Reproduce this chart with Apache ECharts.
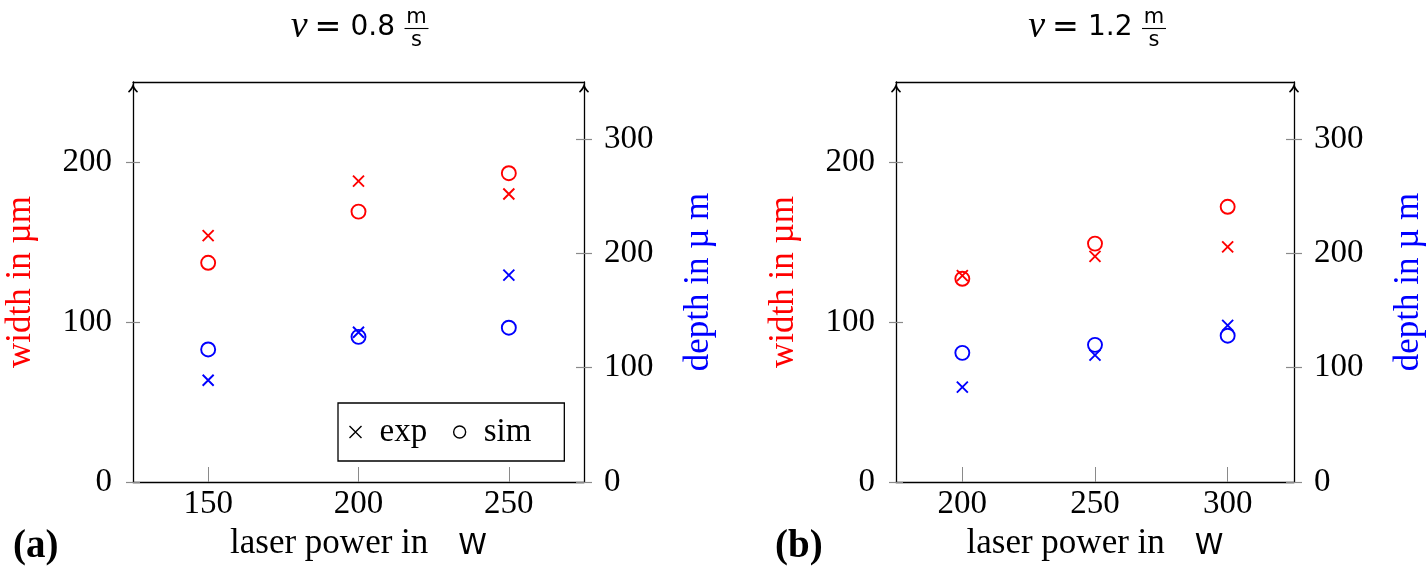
<!DOCTYPE html>
<html>
<head>
<meta charset="utf-8">
<script src="https://cdn.jsdelivr.net/npm/echarts@6/dist/echarts.min.js"></script>
<style>
html,body{margin:0;padding:0;background:#fff;}
#chart{width:1427px;height:578px;}
</style>
</head>
<body>
<div id="chart"></div>
<script>
// ---- data (panel a: v = 0.8 m/s) ----
const powerA = [150, 200, 250];
const widthExpA = [154, 188, 180];
const widthSimA = [137, 169, 193];
const depthExpA = [89, 131, 181];
const depthSimA = [116, 127, 135];
// ---- data (panel b: v = 1.2 m/s) ----
const powerB = [200, 250, 300];
const widthExpB = [129, 141, 147];
const widthSimB = [127, 149, 172];
const depthExpB = [83, 111, 137];
const depthSimB = [113, 120, 128];
// ---- ticks ----
const xTicksA = [150, 200, 250];
const xTicksB = [200, 250, 300];
const widthTicks = [0, 100, 200];
const depthTicks = [0, 100, 200, 300];
const panelTitles = ['0.8', '1.2'];

const RED = '#ff0000', BLUE = '#0000ff', GREY = '#8a8a8a';
const SERIF = 'Liberation Serif', SANS = 'DejaVu Sans';
const crossPath = 'path://M0,0L10,10M10,0L0,10';
const arrowPath = 'path://M5,0 C5.7,3 7.8,6.2 10,8.2 L9,9.6 C7.4,8.2 6,6.4 5,4.8 C4,6.4 2.6,8.2 1,9.6 L0,8.2 C2.2,6.2 4.3,3 5,0 Z';

const grids = [
  {left: 133, top: 82, width: 451, height: 400},
  {left: 896, top: 82, width: 400, height: 400}
];
const xRanges = [[125, 275], [175, 325]];
const xTicks = [xTicksA, xTicksB];

function zip(xs, ys) { return xs.map((x, i) => [x, ys[i]]); }

const xAxis = [], yAxis = [], series = [];
grids.forEach((g, gi) => {
  xAxis.push({
    type: 'value', gridIndex: gi, position: 'bottom', min: xRanges[gi][0], max: xRanges[gi][1],
    axisLine: {show: true, onZero: false, lineStyle: {color: '#000', width: 1.3}},
    axisTick: {show: true, inside: true, length: 15, customValues: xTicks[gi], lineStyle: {color: GREY, width: 1}},
    axisLabel: {show: true, margin: 6, customValues: xTicks[gi], color: '#000', fontFamily: SERIF, fontSize: 33},
    splitLine: {show: false},
    name: '{a|laser power in}{b|W}', nameLocation: 'middle', nameGap: 44,
    nameTextStyle: {rich: {
      a: {fontFamily: SERIF, fontSize: 35, color: '#000'},
      b: {fontFamily: SANS, fontSize: 29, color: '#000', padding: [6, 0, 0, 30]}
    }}
  });
  xAxis.push({
    type: 'value', gridIndex: gi, position: 'top', min: xRanges[gi][0], max: xRanges[gi][1],
    axisLine: {show: true, onZero: false, lineStyle: {color: '#000', width: 1.3}},
    axisTick: {show: false}, axisLabel: {show: false}, splitLine: {show: false}
  });
  // main left (width)
  yAxis.push({
    type: 'value', gridIndex: gi, position: 'left', min: 0, max: 250,
    axisLine: {show: true, onZero: false, symbol: ['none', arrowPath], symbolSize: [10, 12], symbolOffset: [0, -6],
      lineStyle: {color: '#000', width: 1.3}},
    axisTick: {show: true, inside: false, length: 7, customValues: widthTicks, lineStyle: {color: GREY, width: 1.2}},
    axisLabel: {show: true, margin: 21, customValues: widthTicks, color: '#000', fontFamily: SERIF, fontSize: 33},
    splitLine: {show: false},
    name: 'width in µm', nameLocation: 'middle', nameGap: 95,
    nameTextStyle: {color: RED, fontFamily: SERIF, fontSize: 35}
  });
  // main right (depth)
  yAxis.push({
    type: 'value', gridIndex: gi, position: 'right', min: 0, max: 350,
    axisLine: {show: true, onZero: false, symbol: ['none', arrowPath], symbolSize: [10, 12], symbolOffset: [0, -6],
      lineStyle: {color: '#000', width: 1.3}},
    axisTick: {show: true, inside: false, length: 8, customValues: depthTicks, lineStyle: {color: GREY, width: 1.2}},
    axisLabel: {show: true, margin: 20, customValues: depthTicks, color: '#000', fontFamily: SERIF, fontSize: 33},
    splitLine: {show: false},
    name: 'depth in µ m', nameLocation: 'middle', nameGap: 97,
    nameTextStyle: {color: BLUE, fontFamily: SERIF, fontSize: 35}
  });
  // inner tick halves
  yAxis.push({
    type: 'value', gridIndex: gi, position: 'left', min: 0, max: 250,
    axisLine: {show: false, onZero: false},
    axisTick: {show: true, inside: true, length: 7, customValues: widthTicks, lineStyle: {color: GREY, width: 1.2}},
    axisLabel: {show: false}, splitLine: {show: false}
  });
  yAxis.push({
    type: 'value', gridIndex: gi, position: 'right', min: 0, max: 350,
    axisLine: {show: false, onZero: false},
    axisTick: {show: true, inside: true, length: 8, customValues: depthTicks, lineStyle: {color: GREY, width: 1.2}},
    axisLabel: {show: false}, splitLine: {show: false}
  });
});

function mk(name, gi, yi, data, color, isCross) {
  return {
    type: 'scatter', name: name, xAxisIndex: gi * 2, yAxisIndex: gi * 4 + yi,
    data: data,
    symbol: isCross ? crossPath : 'circle',
    symbolSize: isCross ? 11 : 14,
    itemStyle: {color: 'none', borderColor: color, borderWidth: 1.9, opacity: 1},
    emphasis: {disabled: true},
    z: isCross ? 3 : 2
  };
}
series.push(mk('sim', 0, 0, zip(powerA, widthSimA), RED, false));
series.push(mk('exp', 0, 0, zip(powerA, widthExpA), RED, true));
series.push(mk('sim', 0, 1, zip(powerA, depthSimA), BLUE, false));
series.push(mk('exp', 0, 1, zip(powerA, depthExpA), BLUE, true));
series.push(mk('sim', 1, 0, zip(powerB, widthSimB), RED, false));
series.push(mk('exp', 1, 0, zip(powerB, widthExpB), RED, true));
series.push(mk('sim', 1, 1, zip(powerB, depthSimB), BLUE, false));
series.push(mk('exp', 1, 1, zip(powerB, depthExpB), BLUE, true));

// titles and panel labels
const graphic = [];
grids.forEach((g, gi) => {
  const cx = g.left + g.width / 2;
  graphic.push({type: 'text', x: cx - 51, y: 27,
    style: {text: 'v', fontFamily: SERIF, fontStyle: 'italic', fontSize: 38, fill: '#000', align: 'right', verticalAlign: 'middle'}});
  graphic.push({type: 'text', x: cx - 44, y: 29,
    style: {text: '=', fontFamily: SANS, fontSize: 32, fill: '#000', align: 'left', verticalAlign: 'middle'}});
  graphic.push({type: 'text', x: cx - 8, y: 28,
    style: {text: panelTitles[gi], fontFamily: SANS, fontSize: 28, fill: '#000', align: 'left', verticalAlign: 'middle'}});
  graphic.push({type: 'text', x: cx + 58, y: 18,
    style: {text: 'm', fontFamily: SANS, fontSize: 21, fill: '#000', align: 'center', verticalAlign: 'middle'}});
  graphic.push({type: 'line', shape: {x1: cx + 46, y1: 28.5, x2: cx + 70, y2: 28.5},
    style: {stroke: '#000', lineWidth: 1.1}});
  graphic.push({type: 'text', x: cx + 58, y: 41,
    style: {text: 's', fontFamily: SANS, fontSize: 21, fill: '#000', align: 'center', verticalAlign: 'middle'}});
});
graphic.push({type: 'text', x: 13, y: 547,
  style: {text: '(a)', fontFamily: SERIF, fontWeight: 'bold', fontSize: 39, fill: '#000', align: 'left', verticalAlign: 'middle'}});
graphic.push({type: 'text', x: 775, y: 547,
  style: {text: '(b)', fontFamily: SERIF, fontWeight: 'bold', fontSize: 39, fill: '#000', align: 'left', verticalAlign: 'middle'}});

const option = {
  animation: false,
  backgroundColor: '#fff',
  grid: grids.map(g => Object.assign({containLabel: false}, g)),
  xAxis: xAxis,
  yAxis: yAxis,
  series: series,
  legend: {
    show: true, selectedMode: false, left: 338, top: 403, orient: 'horizontal',
    borderColor: '#000', borderWidth: 1.3, backgroundColor: '#fff',
    padding: [11, 33, 11, 9],
    itemWidth: 12, itemHeight: 12, itemGap: 24,
    textStyle: {fontFamily: SERIF, fontSize: 33, color: '#000', lineHeight: 36, padding: [0, 0, 0, 13]},
    data: [
      {name: 'exp', icon: crossPath, itemStyle: {color: 'none', borderColor: '#000', borderWidth: 1.4}},
      {name: 'sim', icon: 'circle', itemStyle: {color: 'none', borderColor: '#000', borderWidth: 1.4}}
    ]
  },
  graphic: graphic
};
const chart = echarts.init(document.getElementById('chart'));
chart.setOption(option);
</script>
</body>
</html>
